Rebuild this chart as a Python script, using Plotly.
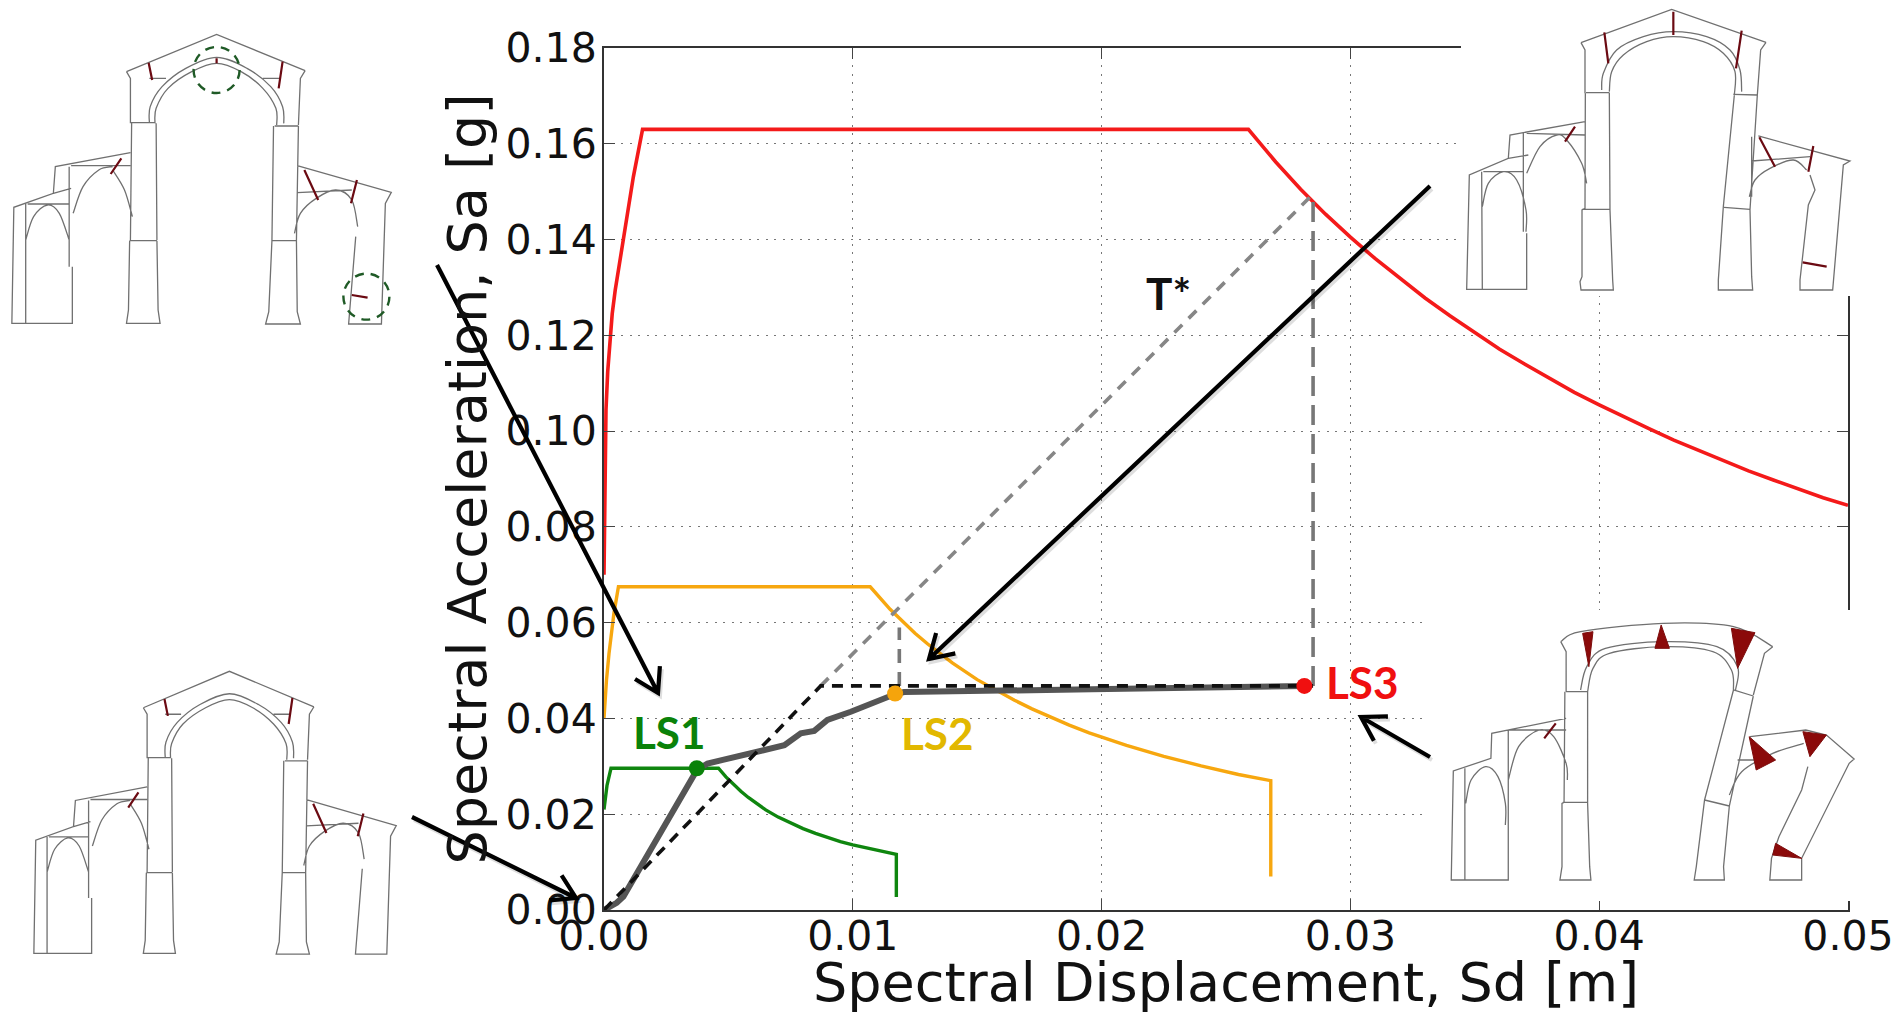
import plotly.graph_objects as go

W, H = 1895, 1014

# ---------- chart data ----------
x_ticks = [0.00, 0.01, 0.02, 0.03, 0.04, 0.05]
y_ticks = [0.00, 0.02, 0.04, 0.06, 0.08, 0.10, 0.12, 0.14, 0.16, 0.18]

red_sd = [0, 0.00004, 0.00008, 0.00015, 0.00024, 0.00033, 0.00045, 0.0006, 0.00078, 0.00098, 0.00118, 0.00155,
          0.0259, 0.027, 0.028, 0.029, 0.030, 0.031, 0.032, 0.033,
          0.034, 0.035, 0.036, 0.037, 0.038, 0.039, 0.040, 0.041, 0.042, 0.043, 0.044, 0.045, 0.046, 0.047,
          0.048, 0.049, 0.050]
red_sa = [0.070, 0.0905, 0.1044, 0.1125, 0.1197, 0.1245, 0.1294, 0.1345, 0.1402, 0.1465, 0.1531, 0.163,
          0.163, 0.1562, 0.1505, 0.1453, 0.1405, 0.1360, 0.1318, 0.1278,
          0.1241, 0.1205, 0.1171, 0.1140, 0.1110, 0.1081, 0.1055, 0.1029, 0.1005, 0.0981, 0.0959, 0.0938, 0.0917,
          0.0898, 0.0879, 0.0861, 0.0845]

orange_sd = [0, 0.00005, 0.0001, 0.0002, 0.0003, 0.0004, 0.00058, 0.0107, 0.0115, 0.012, 0.0125, 0.013, 0.0135, 0.014,
             0.015, 0.0158, 0.0165, 0.0172, 0.018, 0.0187, 0.0195, 0.0202,
             0.021, 0.0225, 0.024, 0.0255, 0.0268, 0.0268]
orange_sa = [0.040, 0.0445, 0.048, 0.0535, 0.058, 0.062, 0.0675, 0.0675, 0.0628, 0.0602, 0.0578, 0.0556, 0.0535, 0.0516,
             0.0481, 0.0457, 0.0438, 0.0420, 0.0401, 0.0386, 0.0370, 0.0357,
             0.0344, 0.0321, 0.0301, 0.0283, 0.0270, 0.0070]

green_sd = [0, 0.00005, 0.00012, 0.00028, 0.0046, 0.0049, 0.0052, 0.0055, 0.0058, 0.0061, 0.0065, 0.007, 0.0075,
            0.008, 0.0085, 0.009, 0.0095, 0.01, 0.0105, 0.011, 0.01175, 0.01175]
green_sa = [0.021, 0.0235, 0.026, 0.0296, 0.0296, 0.0278, 0.0262, 0.0248, 0.0235, 0.0223, 0.0209, 0.0194, 0.0181,
            0.0170, 0.0160, 0.0151, 0.0143, 0.0136, 0.0130, 0.0124, 0.0116, 0.0027]

capacity_sd = [0, 0.00051, 0.00078, 0.00373, 0.00416, 0.00577, 0.00725, 0.00791, 0.00845, 0.00898, 0.00992, 0.01166,
               0.01206, 0.0196, 0.02815]
capacity_sa = [0, 0.0015, 0.0028, 0.0292, 0.0306, 0.0327, 0.0344, 0.0369, 0.0374, 0.0397, 0.0414, 0.0450,
               0.0455, 0.0461, 0.0468]

bilinear_sd = [0, 0.00871, 0.0285]
bilinear_sa = [0, 0.0468, 0.0468]

period_sd = [0.00871, 0.0285]
period_sa = [0.0468, 0.1495]

drop1_sd = [0.01187, 0.01187]
drop1_sa = [0.0468, 0.0590]
drop2_sd = [0.0285, 0.0285]
drop2_sa = [0.0468, 0.1495]

ls_sd = [0.00373, 0.0117, 0.02815]
ls_sa = [0.0296, 0.0452, 0.0468]
ls_colors = ["#0a820a", "#f5a40c", "#f01010"]

# ---------- drawings: straight runs and arches, in the scale of the picture ----------
tl_lines = [
    [(320,215),(548,103),(772,212)], [(320,215),(330,235),(330,370)], [(772,212),(760,235),(755,375)],
    [(330,368),(392,368)], [(695,378),(755,378)],
    [(333,370),(330,720)], [(395,370),(397,720)], [(328,722),(397,722)],
    [(328,722),(325,930),(320,970),(405,970),(400,930),(397,722)],
    [(692,378),(688,722)], [(755,378),(750,722)], [(688,722),(750,722)],
    [(688,722),(680,935),(672,972),(760,972),(752,935),(750,722)],
    [(752,497),(990,577),(975,610),(965,972),(882,972),(900,710)], [(752,578),(890,570)],
    [(330,458),(140,500),(135,580),(35,622),(30,970),(183,970),(183,800)], [(65,610),(65,970)],
    [(180,497),(330,497)], [(70,612),(175,612)], [(135,580),(180,565)], [(175,500),(175,800)],
    [(378,235),(420,235)], [(665,235),(710,235)],
]
tl_arcs = [
    [(378,370),(380,320),(410,260),(470,205),(548,172),(625,205),(685,260),(715,320),(718,370)],
    [(392,370),(395,325),(425,265),(485,215),(548,190),(610,215),(665,265),(698,325),(700,375)],
    [(745,700),(760,640),(800,595),(850,570),(890,600),(905,680)],
    [(185,640),(210,560),(250,510),(285,500)], [(285,510),(315,570),(335,650)],
    [(65,720),(85,650),(120,615),(150,640),(175,720)],
]
tl_cracks = [[(376,188),(385,240)], [(715,185),(705,265)], [(307,475),(280,522)], [(770,510),(805,600)],
             [(903,540),(888,610)], [(890,885),(930,893)], [(548,175),(548,190)]]
tl_circles = [(548,210), (927,890)]

tr_lines = [
    [(543,128),(815,28),(1098,127)], [(543,128),(555,150),(555,280)], [(1098,127),(1082,150),(1072,285)],
    [(558,278),(628,278)], [(1000,283),(1072,285)],
    [(556,280),(555,625),(546,630),(546,830),(540,845),(543,870),(640,870),(638,840),(630,630),(628,278)],
    [(546,628),(630,628)],
    [(1003,285),(970,620),(955,840),(955,870),(1058,870),(1055,830),(1050,630),(1072,285)],
    [(972,622),(1050,628)],
    [(555,365),(330,405),(325,475),(208,525),(200,868),(380,868),(380,700)], [(245,515),(247,868)],
    [(325,475),(385,465)], [(380,400),(555,405)], [(370,400),(370,695)],
    [(250,515),(370,515)],
    [(1075,408),(1350,483),(1330,495),(1298,870),(1200,870),(1200,840),(1225,615),(1245,570),(1230,525)],
    [(1055,483),(1230,470)], [(1055,410),(1055,590)],
]
tr_arcs = [
    [(605,270),(610,220),(650,150),(730,110),(820,95),(920,110),(990,150),(1020,210),(1025,275)],
    [(628,275),(635,215),(670,165),(740,125),(820,110),(910,125),(970,160),(1005,215),(1003,285)],
    [(380,520),(420,440),(470,405),(500,420),(545,490),(560,550)],
    [(247,620),(265,550),(310,515),(350,540),(378,630),(378,695)],
    [(1048,590),(1065,540),(1110,505),(1180,480),(1220,510)],
]
tr_cracks = [[(820,35),(820,105)], [(613,97),(625,190)], [(1025,92),(1008,205)], [(525,380),(495,425)],
             [(1078,412),(1125,500)], [(1240,438),(1225,515)], [(1208,787),(1280,800)]]

br_lines = [
    [(752,155),(765,185),(765,305)], [(1265,170),(1245,190),(1218,315)],
    [(765,305),(818,305)], [(1170,300),(1218,318)],
    [(762,305),(760,637),(755,640),(755,830),(750,870),(825,870),(822,830),(817,640),(817,305)],
    [(757,637),(817,637)],
    [(1170,300),(1100,630),(1080,830),(1075,870),(1148,870),(1146,830),(1160,648),(1218,318)],
    [(1100,630),(1160,648)],
    [(765,385),(585,430),(583,505),(492,543),(487,870),(625,870),(625,710)], [(520,535),(520,870)],
    [(625,420),(625,710)], [(625,420),(765,420)],
    [(1210,440),(1345,420),(1395,435),(1462,507),(1450,520),(1335,805),(1335,870),(1258,870),(1262,805),
     (1280,740),(1335,600),(1350,530)],
    [(1180,510),(1240,510)],
]
br_arcs = [
    [(752,155),(800,125),(1000,100),(1170,110),(1265,170)],
    [(800,300),(815,230),(860,175),(1000,155),(1130,170),(1180,230),(1175,300)],
    [(817,305),(830,235),(870,190),(1000,170),(1120,185),(1165,240),(1170,300)],
    [(625,570),(650,470),(700,420),(735,440),(765,520),(768,570)],
    [(522,640),(535,570),(570,530),(600,560),(618,640),(618,705)],
    [(1160,615),(1190,545),(1265,490),(1340,460)],
]
br_hinges = [[(805,130),(830,125),(820,230)], [(995,105),(980,175),(1015,175)], [(1165,115),(1222,128),(1180,235)],
             [(1208,440),(1272,510),(1225,540)], [(1338,425),(1395,435),(1355,500)], [(1272,760),(1335,805),(1265,795)]]
br_cracks = [[(740,400),(712,445)]]

arrows = [((437,265),(658,693)), ((412,817),(576,898)), ((1430,186),(929,659)), ((1430,757),(1361,717))]


def px(x, y):
    return x / W, 1 - y / H


def path(points, close=False):
    parts = []
    for i, (x, y) in enumerate(points):
        fx, fy = px(x, y)
        parts.append(("M" if i == 0 else "L") + f"{fx:.5f},{fy:.5f}")
    return " ".join(parts) + (" Z" if close else "")


def smooth(points):
    # Catmull-Rom through the points, as cubic Bezier segments
    n = len(points)
    fx0, fy0 = px(*points[0])
    out = [f"M{fx0:.5f},{fy0:.5f}"]
    for i in range(n - 1):
        p0 = points[max(i - 1, 0)]
        p1 = points[i]
        p2 = points[i + 1]
        p3 = points[min(i + 2, n - 1)]
        c1 = (p1[0] + (p2[0] - p0[0]) / 6, p1[1] + (p2[1] - p0[1]) / 6)
        c2 = (p2[0] - (p3[0] - p1[0]) / 6, p2[1] - (p3[1] - p1[1]) / 6)
        a, b, c = px(*c1), px(*c2), px(*p2)
        out.append(f"C{a[0]:.5f},{a[1]:.5f} {b[0]:.5f},{b[1]:.5f} {c[0]:.5f},{c[1]:.5f}")
    return " ".join(out)


def pshape(d, color, width, fill=None, dash=None):
    s = dict(type="path", xref="paper", yref="paper", path=d, layer="above",
             line=dict(color=color, width=width))
    if dash:
        s["line"]["dash"] = dash
    if fill:
        s["fillcolor"] = fill
    return s


def mask(x0, y0, x1, y1):
    fx0, fy0 = px(x0, y0)
    fx1, fy1 = px(x1, y1)
    return dict(type="rect", xref="paper", yref="paper", x0=fx0, x1=fx1, y0=fy0, y1=fy1, layer="above",
                fillcolor="white", line=dict(width=0))


shapes = [mask(1461, 0, W, 296), mask(1428, 610, W, 901)]

LINE = "#707070"
CRACK = "#6b0a12"


def drawing(lines, arcs, cracks, tf, hinges=()):
    out = []
    d = " ".join(path([tf(*p) for p in ln]) for ln in lines)
    d += " " + " ".join(smooth([tf(*p) for p in ln]) for ln in arcs)
    out.append(pshape(d, LINE, 1.3))
    for h in hinges:
        out.append(pshape(path([tf(*p) for p in h], True), "#7d0c0c", 1, fill="#8b0a0a"))
    if cracks:
        out.append(pshape(" ".join(path([tf(*p) for p in c]) for c in cracks), CRACK, 2.2))
    return out


tf_tl = lambda x, y: (x / 2.53, y / 3)
tf_bl = lambda x, y: (34 + (x / 2.53 - 12) * 0.955, 671 + (y / 3 - 34) * 0.976)
tf_tr = lambda x, y: (1400 + x / 3, y / 3)
tf_br = lambda x, y: (1250 + x / 2.42, 590 + y / 3)

shapes += drawing(tl_lines, tl_arcs, tl_cracks, tf_tl)
shapes += drawing(tl_lines, tl_arcs, tl_cracks[:-2], tf_bl)
shapes += drawing(tr_lines, tr_arcs, tr_cracks, tf_tr)
shapes += drawing(br_lines, br_arcs, br_cracks, tf_br, br_hinges)

for c in tl_circles:
    cx, cy = tf_tl(*c)
    fx0, fy0 = px(cx - 23, cy - 23)
    fx1, fy1 = px(cx + 23, cy + 23)
    shapes.append(dict(type="circle", xref="paper", yref="paper", x0=fx0, x1=fx1, y0=fy0, y1=fy1, layer="above",
                       line=dict(color="#1f5a26", width=2.4, dash="9px,7px")))

for (a, b) in arrows:
    dx, dy = b[0] - a[0], b[1] - a[1]
    n = (dx * dx + dy * dy) ** 0.5
    ux, uy = dx / n, dy / n
    L, Sp = 23, 14
    b1 = (b[0] - L * ux - Sp * uy, b[1] - L * uy + Sp * ux)
    b2 = (b[0] - L * ux + Sp * uy, b[1] - L * uy - Sp * ux)
    off = lambda p: (p[0] + 2, p[1] + 3)
    shapes.append(pshape(path([off(a), off(b)]) + " " + path([off(b1), off(b), off(b2)]), "rgba(0,0,0,0.13)", 4))
    shapes.append(pshape(path([a, b]) + " " + path([b1, b, b2]), "black", 4.2))

# ---------- figure ----------
fig = go.Figure()


def curve(xs, ys, color, width, dash=None):
    fig.add_trace(go.Scatter(x=xs, y=ys, mode="lines", showlegend=False, hoverinfo="skip",
                             line=dict(color=color, width=width, dash=dash)))


curve(red_sd, red_sa, "#f41a1a", 3.6)
curve(orange_sd, orange_sa, "#f7a70f", 3.4)
curve(green_sd, green_sa, "#0f860f", 3.4)
curve(period_sd, period_sa, "#868686", 3.6, "11px,9px")
curve(drop1_sd, drop1_sa, "#777777", 3.6, "14px,9px")
curve(drop2_sd, drop2_sa, "#777777", 3.6, "20px,9px")
curve(capacity_sd, capacity_sa, "#555555", 6)
curve(bilinear_sd, bilinear_sa, "#111111", 3.6, "11px,8px")
fig.add_trace(go.Scatter(x=ls_sd, y=ls_sa, mode="markers", showlegend=False, hoverinfo="skip",
                         marker=dict(color=ls_colors, size=16, line=dict(width=0))))

label_font = "Lato"
notes = [("LS1", 669, 732, "#0a820a"), ("LS2", 937, 733, "#e2b800"), ("LS3", 1362, 682, "#f01010"), ("T*", 1168, 293, "#111111")]
annots = []
for text, x, y, color in notes:
    fx, fy = px(x, y)
    annots.append(dict(text=f"<b>{text}</b>", x=fx, y=fy, xref="paper", yref="paper", showarrow=False,
                       xanchor="center", yanchor="middle", font=dict(family=label_font, size=44, color=color)))

axis_common = dict(showline=True, linecolor="#333333", linewidth=2, mirror="ticks", ticks="inside", ticklen=11,
                   tickwidth=1.3, tickcolor="#444444", showgrid=True, gridcolor="#777777", gridwidth=1.4,
                   griddash="2px,6.5px", zeroline=False,
                   tickfont=dict(family="DejaVu Sans", size=41, color="#111111"))

fig.update_layout(
    width=W, height=H, margin=dict(l=0, r=0, t=0, b=0), paper_bgcolor="white", plot_bgcolor="white",
    showlegend=False, shapes=shapes, annotations=annots,
    xaxis=dict(range=[0, 0.05], domain=[604 / W, 1848 / W], tickvals=x_ticks, tickformat=".2f",
               ticklabelstandoff=-11,
               title=dict(text="Spectral Displacement, Sd [m]", standoff=0,
                          font=dict(family="DejaVu Sans", size=54, color="#111111")),
               automargin=False, **axis_common),
    yaxis=dict(range=[0, 0.18], domain=[1 - 910 / H, 1 - 48 / H], tickvals=y_ticks, tickformat=".2f",
               ticklabelstandoff=-3,
               title=dict(text="Spectral Acceleration, Sa [g]", standoff=2,
                          font=dict(family="DejaVu Sans", size=54, color="#111111")),
               automargin=False, **axis_common),
)

fig.write_html("out.html", config=dict(displayModeBar=False),
               post_script="document.body.style.margin='0';window.dispatchEvent(new Event('resize'));")
